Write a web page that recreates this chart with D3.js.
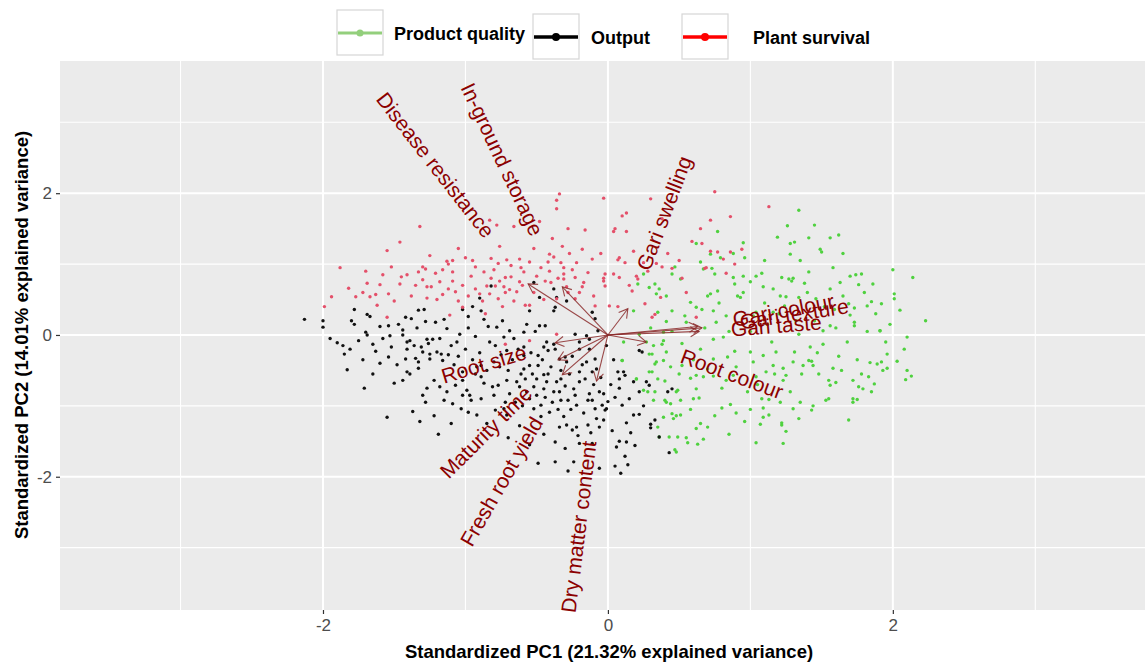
<!DOCTYPE html>
<html>
<head>
<meta charset="utf-8">
<script src="https://cdn.jsdelivr.net/npm/d3@7"></script>
<style>
  body { margin: 0; background: #fff; }
  svg { display: block; font-family: "Liberation Sans", Arial, sans-serif; }
</style>
</head>
<body>
<div class="container"></div>
<script>
// PCA scores (standardized PC1, PC2)
const plantSurvival = [
  [-0.34,1.99],[-0.03,1.93],[-0.36,1.90],[-0.36,1.78],[-1.32,1.53],[-0.83,1.62],[-0.78,1.55],[-0.48,1.60],[-0.66,1.53],[-0.28,1.50],
  [-0.16,1.48],[0.04,1.46],[-1.46,1.31],[-1.05,1.22],[-0.76,1.25],[-1.55,1.19],[-0.52,1.22],[-0.39,1.36],[-0.32,1.25],[-0.18,1.21],
  [-1.13,1.04],[-1.09,1.05],[-1.00,1.09],[-0.82,1.08],[-0.71,1.06],[-0.62,1.07],[-0.55,1.03],[-0.41,1.14],[-0.38,1.10],[-0.27,1.15],
  [-0.11,1.07],[-1.88,0.95],[-1.52,0.96],[-1.30,0.96],[-1.28,0.93],[-1.21,0.87],[-1.16,0.92],[-1.12,1.00],[-0.93,0.96],[-0.87,0.89],
  [-0.77,1.01],[-0.68,0.98],[-0.61,0.95],[-0.59,0.89],[-0.42,1.03],[-0.31,0.95],[-0.22,1.02],[-0.02,0.86],[-1.45,0.82],[-1.41,0.85],
  [-1.33,0.89],[-1.09,0.89],[-0.96,0.83],[-0.82,0.80],[-0.76,0.76],[-0.72,0.81],[-0.68,0.82],[-0.62,0.75],[-0.50,0.83],[-0.41,0.90],
  [-0.31,0.86],[-0.23,0.81],[-0.17,0.74],[-1.82,0.66],[-1.69,0.73],[-1.60,0.71],[-1.54,0.58],[-1.46,0.72],[-1.30,0.78],[-1.27,0.68],
  [-1.24,0.68],[-1.12,0.65],[-1.09,0.76],[-0.93,0.65],[-0.85,0.69],[-0.79,0.69],[-0.73,0.68],[-0.69,0.64],[-0.44,0.76],[-0.40,0.74],
  [-0.31,0.79],[-0.29,0.68],[-0.18,0.68],[-0.03,0.76],[-1.94,0.54],[-1.77,0.54],[-1.72,0.60],[-1.67,0.54],[-1.63,0.57],[-1.27,0.52],
  [-1.16,0.57],[-1.07,0.61],[-0.90,0.58],[-0.83,0.58],[-0.77,0.51],[-0.72,0.60],[-0.64,0.61],[-0.28,0.60],[-0.23,0.51],[-1.99,0.40],
  [-1.55,0.25],[-1.11,0.28],[-1.05,0.48],[-1.02,0.39],[-0.86,0.30],[-0.58,0.42],[-0.55,0.42],[-0.36,0.51],[0.01,0.41],[-0.09,0.41],
  [0.30,1.92],[0.75,2.02],[1.13,1.81],[0.10,1.68],[0.13,1.72],[0.05,1.50],[0.13,1.46],[0.38,1.64],[0.72,1.62],[0.86,1.67],
  [0.65,1.50],[0.59,1.32],[0.66,1.29],[0.18,1.18],[0.08,1.09],[0.07,1.06],[0.34,1.01],[0.38,0.96],[0.45,0.94],[0.25,1.02],
  [0.72,1.18],[0.77,1.17],[0.86,1.17],[0.94,1.21],[0.81,1.07],[0.68,0.94],[0.89,1.00],[0.83,0.87],[-0.03,0.80],[-0.02,0.69],
  [0.04,0.86],[0.08,0.81],[0.20,0.83],[0.21,0.79],[0.52,0.80],[0.17,0.62],[0.37,0.53],[0.07,0.40],[0.26,0.44],[0.33,0.29],
  [0.31,0.25],[0.62,0.25],[0.69,0.95],[-0.72,-0.13],[-0.55,-0.08],[-0.36,0.01],
  [-1.70,0.90],[-1.62,0.42],[-1.50,0.48],[-1.38,0.55],[-1.35,0.70],[-1.20,0.50],[-1.18,0.75],[-1.02,0.70],[-0.98,0.55],[-0.95,1.05],
  [-0.88,0.48],[-0.80,0.92],[-0.74,0.40],[-0.66,0.48],[-0.60,0.70],[-0.52,0.60],[-0.47,0.95],[-0.45,0.50],[-0.35,0.80],[-0.33,1.02],
  [-0.25,0.92],[-0.20,0.60],[-0.14,0.88],[-0.10,0.55],[-0.05,1.15],[0.12,1.02],[0.15,0.70],[0.28,0.90],[0.42,1.15],[0.50,1.05],
  [0.55,0.60],[-1.58,0.85],[-1.25,1.12]
];

const output = [
  [-2.13,0.22],[-2.00,0.20],[-2.00,0.11],[-1.80,0.20],[-1.78,0.36],[-1.78,0.15],[-1.69,0.29],[-1.67,0.26],[-1.70,0.04],[-1.60,0.12],
  [-1.54,0.13],[-1.44,0.07],[-1.42,0.25],[-1.38,0.23],[-1.33,0.35],[-1.29,0.36],[-1.28,0.19],[-1.21,0.18],[-1.13,0.09],[-1.02,0.36],
  [-0.95,0.40],[-0.98,0.26],[-0.90,0.52],[-0.89,0.34],[-0.87,0.22],[-0.82,0.69],[-0.78,0.11],[-0.69,0.06],[-0.59,0.04],[-0.57,0.15],
  [-0.55,0.34],[-0.52,0.74],[-0.48,0.53],[-0.44,0.13],[-0.48,0.13],[-0.38,0.65],[-0.37,0.39],[-0.36,0.53],[-0.38,0.34],[-0.29,0.48],
  [-0.23,0.01],[-0.11,0.32],[-0.09,0.23],[-0.07,0.06],
  [-1.90,-0.11],[-1.86,-0.15],[-1.81,-0.20],[-1.85,-0.27],[-1.83,-0.49],[-1.71,-0.75],[-1.65,-0.13],[-1.63,-0.23],[-1.69,0.00],[-1.53,-0.01],
  [-1.52,-0.17],[-1.54,-0.31],[-1.55,-1.16],[-1.44,0.00],[-1.41,-0.10],[-1.39,-0.08],[-1.41,-0.20],[-1.42,-0.34],[-1.41,-0.52],[-1.44,-0.64],
  [-1.39,-0.55],[-1.35,-0.33],[-1.33,-0.38],[-1.33,-0.47],[-1.30,-0.24],[-1.31,-0.17],[-1.27,-0.06],[-1.25,-0.27],[-1.25,-0.34],[-1.23,-0.06],
  [-1.20,-0.24],[-1.17,-0.27],[-1.12,-0.28],[-1.16,-0.36],[-1.22,-0.64],[-1.18,-0.73],[-1.13,-0.80],[-1.15,-0.92],[-1.27,-0.75],[-1.30,-0.85],
  [-1.37,-1.08],[-1.32,-1.22],[-1.22,-1.14],[-1.19,-1.40],[-1.09,-0.97],[-1.07,-0.71],[-1.02,-0.64],[-1.02,-0.85],[-0.99,-0.78],[-0.97,-0.85],
  [-0.96,-0.92],[-0.98,-1.09],[-0.92,-1.13],[-1.03,-1.04],[-0.93,-0.55],[-0.89,-0.59],[-1.06,-0.10],[-1.04,0.01],[-1.02,-0.52],[-0.92,-0.45],
  [-0.89,-0.43],[-0.80,-0.38],[-0.83,-0.10],[-0.79,-0.15],[-0.73,-0.03],[-0.71,-0.22],[-0.71,-0.64],[-0.77,-0.71],[-0.81,-0.73],[-0.89,-0.90],
  [-0.79,-1.06],[-0.73,-1.04],[-0.71,-1.13],[-0.72,-0.95],[-0.69,-0.83],[-0.64,-0.66],[-0.62,-0.73],[-0.61,-0.55],[-0.59,-0.48],[-0.55,-0.43],
  [-0.52,-0.73],[-0.55,-0.90],[-0.50,-0.85],[-0.52,-1.04],[-0.47,-0.99],[-0.45,-0.76],[-0.43,-0.66],[-0.45,-0.56],[-0.49,-0.43],[-0.49,-0.29],
  [-0.45,-0.17],[-0.43,-0.10],[-0.38,-0.13],[-0.37,-0.20],[-0.34,-0.34],[-0.30,-0.31],[-0.29,-0.38],[-0.33,-0.62],[-0.36,-0.66],[-0.38,-0.80],
  [-0.41,-1.09],[-0.34,-0.80],[-0.33,-0.92],[-0.28,-0.92],[-0.34,-1.30],[-0.29,-1.27],[-0.25,-1.34],[-0.22,-1.30],[-0.24,-0.76],[-0.20,-0.52],
  [-0.20,-0.20],[-0.20,-0.10],[-0.15,-0.01],[-0.13,-0.06],[-0.13,-0.20],[-0.15,-0.38],[-0.09,-0.34],[-0.11,-0.52],[-0.20,-0.66],[-0.13,-0.83],
  [-0.11,-0.92],[-0.09,-1.04],[-0.04,-0.99],[-0.02,-1.06],[-0.08,-1.18],[-0.14,-1.27],[-0.06,-0.80],[-0.49,-1.81],[-0.37,-1.79],[-0.24,-1.79],
  [-0.37,-1.51],[-0.20,-1.53],[-0.11,-1.53],[-0.59,-0.29],[-0.59,-0.17],[-0.42,-0.55],[-0.22,-0.99],
  [-0.01,-0.15],[0.04,-0.35],[0.07,-0.52],[0.11,-0.52],[0.12,-0.57],[0.08,-0.62],[0.08,-0.75],[0.18,-0.66],[0.22,-0.80],[0.27,-0.66],
  [0.29,-0.71],[-0.03,-0.83],[0.00,-0.94],[-0.01,-1.04],[0.10,-0.99],[0.18,-1.13],[0.22,-1.12],[0.13,-1.24],[0.30,-1.26],[0.30,-1.31],
  [0.36,-1.44],[0.42,-0.80],[0.45,-0.76],[0.08,-1.50],[0.13,-1.51],[0.19,-1.56],[0.06,-1.58],[0.12,-1.71],[0.43,-1.66],[0.22,-0.22],
  [0.24,-0.24],[-0.28,-1.92],[-0.06,-1.88],[0.05,-1.85],[0.09,-1.95],[0.14,-1.83],
  [-1.95,-0.05],[-1.75,-0.08],[-1.72,-0.35],[-1.60,-0.40],[-1.58,-0.05],[-1.48,-0.42],[-1.47,0.15],[-1.36,-0.15],[-1.34,0.10],[-1.26,-0.12],
  [-1.18,-0.05],[-1.15,0.22],[-1.10,-0.15],[-1.08,-0.42],[-1.05,-0.30],[-1.00,-0.20],[-0.98,0.10],[-0.95,-0.35],[-0.93,-0.02],[-0.90,-0.25],
  [-0.87,-0.68],[-0.85,-0.50],[-0.84,0.12],[-0.80,-0.85],[-0.76,-0.45],[-0.75,-0.28],[-0.74,0.20],[-0.70,-0.50],[-0.67,-0.35],[-0.66,-0.05],
  [-0.65,-0.95],[-0.63,-0.20],[-0.60,-1.00],[-0.58,-0.62],[-0.57,-0.80],[-0.54,-0.25],[-0.53,-0.55],[-0.51,0.05],[-0.50,-0.62],[-0.47,-1.15],
  [-0.46,-0.35],[-0.44,-0.88],[-0.42,-0.22],[-0.40,-0.45],[-0.39,-0.95],[-0.35,-1.05],[-0.33,-0.50],[-0.31,-1.15],[-0.30,-0.72],[-0.27,-0.55],
  [-0.26,-1.05],[-0.25,-0.30],[-0.23,-0.85],[-0.21,-1.42],[-0.18,-0.42],[-0.17,-1.10],[-0.16,-0.62],[-0.14,-0.92],[-0.12,-1.38],[-0.10,-0.70],
  [-0.08,-0.48],[-0.06,-1.30],[-0.05,-0.60],[-0.03,-1.20],[0.02,-0.70],[0.03,-1.35],[0.05,-0.88],[0.15,-0.90],[0.16,-1.38],[0.25,-1.00],
  [0.33,-1.20],[-1.65,-0.55],[-1.50,-0.68],[-1.28,-0.95],[-1.10,-1.25],[-0.85,-1.25],[-0.62,-1.28],[-0.45,-1.40],[-0.55,-1.55],[-0.70,-1.45],
  [-0.30,-1.60]
];

const productQuality = [
  [1.34,1.76],[1.26,1.54],[1.19,1.38],[1.28,1.29],[1.31,1.31],[1.28,1.14],[1.41,1.37],[1.56,1.37],[1.62,1.41],[1.49,1.21],
  [1.50,1.17],[0.77,1.46],[0.62,1.29],[0.65,1.03],[0.72,1.14],[0.79,1.09],[0.88,1.15],[0.96,1.09],[0.67,0.93],[0.73,0.94],
  [0.75,0.86],[0.88,0.81],[0.89,0.72],[0.95,0.83],[1.04,0.83],[1.08,0.87],[1.22,0.81],[1.27,0.79],[1.29,0.76],[1.30,0.80],
  [1.38,0.73],[1.41,0.89],[1.58,0.95],[1.70,0.83],[1.74,0.85],[1.78,0.86],[1.63,0.74],[1.76,0.71],[1.86,0.72],[2.00,0.92],
  [2.14,0.81],[2.01,0.58],[2.01,0.51],[1.92,0.44],[1.85,0.47],[1.82,0.41],[1.73,0.38],[1.73,0.18],[1.73,0.13],[1.91,0.06],
  [2.10,-0.03],[2.23,0.20],[1.56,0.65],[1.46,0.51],[1.34,0.53],[1.25,0.54],[1.21,0.55],[1.16,0.65],[1.09,0.68],[1.00,0.75],
  [0.91,0.55],[0.93,0.53],[0.77,0.62],[0.72,0.58],[0.70,0.55],[0.58,0.46],[0.51,0.79],[0.45,0.86],[0.33,0.72],[0.36,0.65],
  [0.41,0.55],[0.34,0.58],[0.29,0.67],[0.21,0.72],[0.18,0.34],[0.35,0.32],[0.45,0.34],[0.41,0.19],[0.54,0.27],[0.62,0.39],
  [0.66,0.36],[0.74,0.34],[0.76,0.18],[0.83,0.27],[1.56,0.13],[1.59,0.36],[1.69,0.44],[1.24,0.41],[1.16,0.32],[1.04,0.32],
  [1.02,0.27],[0.47,0.96],[0.25,0.86],
  [0.22,0.01],[0.39,0.04],[0.74,-0.06],[0.81,-0.03],[1.34,0.01],[1.51,0.06],[1.91,0.06],[0.32,-0.15],[0.38,-0.13],[0.29,-0.27],
  [0.41,-0.24],[0.10,-0.36],[0.34,-0.38],[0.33,-0.41],[0.39,-0.36],[0.44,-0.45],[0.52,-0.43],[0.65,-0.20],[0.74,-0.34],[0.84,-0.31],
  [0.89,-0.23],[1.00,-0.24],[1.02,-0.38],[1.09,-0.29],[1.18,-0.24],[1.16,-0.43],[1.23,-0.47],[1.31,-0.24],[1.30,-0.38],[1.37,-0.43],
  [1.41,-0.36],[1.43,-0.37],[1.42,-0.17],[1.51,-0.13],[1.58,-0.47],[1.64,-0.50],[1.75,-0.35],[1.84,-0.39],[1.89,-0.41],[1.92,-0.38],
  [1.96,-0.27],[2.03,-0.37],[1.96,-0.47],[1.93,-0.50],[2.10,-0.50],[2.09,-0.63],[2.13,-0.58],[0.31,-0.52],[0.35,-0.62],[0.20,-0.62],
  [0.58,-0.61],[0.62,-0.57],[0.67,-0.59],[0.74,-0.58],[0.83,-0.64],[0.88,-0.57],[1.04,-0.59],[1.11,-0.52],[1.17,-0.55],[1.23,-0.64],
  [1.25,-0.57],[1.36,-0.55],[1.44,-0.43],[1.48,-0.55],[1.55,-0.64],[1.56,-0.71],[1.60,-0.67],[1.72,-0.64],[1.76,-0.73],[1.79,-0.76],
  [1.85,-0.80],[1.87,-0.69],[1.83,-0.59],[0.28,-0.80],[0.33,-0.80],[0.32,-0.92],[0.40,-0.92],[0.44,-0.97],[0.48,-0.80],[0.51,-0.92],
  [0.49,-0.78],[0.60,-0.90],[0.64,-0.89],[0.62,-0.76],[0.75,-1.14],[0.80,-1.03],[0.86,-0.98],[0.96,-1.22],[1.08,-0.90],[1.13,-0.91],
  [1.09,-1.03],[1.09,-1.16],[1.13,-1.13],[1.21,-0.95],[1.22,-1.24],[1.22,-1.27],[1.25,-1.36],[1.30,-1.04],[1.34,-1.18],[1.43,-1.06],
  [1.44,-1.00],[1.53,-0.92],[1.69,-1.20],[1.72,-0.90],[1.72,-0.95],[1.75,-0.91],[0.39,-1.16],[0.45,-1.11],[0.46,-1.18],[0.48,-1.14],
  [0.51,-1.13],[0.43,-1.44],[0.49,-1.44],[0.56,-1.52],[0.62,-1.32],[0.65,-1.25],[0.67,-1.47],[0.63,-1.54],[0.47,-1.62],[0.48,-1.65],
  [1.04,-1.52],[1.23,-1.53],[1.07,-1.26],
  [0.10,-0.36],[0.20,-0.62],[0.31,-0.27],[0.29,-0.52],[0.41,-0.95],[0.36,-1.44],[0.25,-0.78],[0.11,-0.10],[0.27,-0.10],[0.39,-0.08],
  [0.30,0.10],[0.45,0.05],[0.52,-0.12],[0.55,0.18],[0.60,-0.35],[0.68,0.10],[0.70,-0.48],[0.78,0.45],[0.80,-0.75],[0.85,0.05],
  [0.90,-0.45],[0.95,0.60],[0.98,-0.80],[1.00,0.05],[1.05,-0.70],[1.10,0.45],[1.12,0.15],[1.15,-0.10],[1.20,0.30],[1.28,-0.80],
  [1.32,0.20],[1.35,-0.95],[1.40,0.60],[1.45,0.20],[1.47,-0.25],[1.52,0.40],[1.55,-0.90],[1.60,0.10],[1.62,-0.30],[1.65,0.55],
  [1.68,-0.10],[1.70,0.28],[1.78,-0.55],[1.80,0.60],[1.82,0.05],[1.88,0.30],[1.95,-0.10],[1.98,0.15],[2.05,0.35],[2.08,-0.20],
  [0.58,-1.05],[0.70,-1.30],[0.85,-1.40],[0.90,-1.10],[1.00,-1.05],[0.40,-0.65],[0.50,-0.55],[0.55,-1.45],[0.35,-1.30],[0.95,1.30],
  [1.10,1.05],[1.35,1.05],[1.45,1.55],[1.65,1.15]
];

// loadings (arrow tips)
const varNames = ["Disease resistance", "In-ground storage", "Gari swelling", "Gari colour", "Gari texture",
  "Gari taste", "Root colour", "Root size", "Maturity time", "Fresh root yield", "Dry matter content"];
const loadX = [-0.56, -0.32, 0.14, 0.63, 0.66, 0.64, 0.27, -0.37, -0.35, -0.32, -0.08];
const loadY = [0.72, 0.68, 0.37, 0.12, 0.10, 0.05, -0.10, -0.11, -0.35, -0.56, -0.65];

const groupNames = ["Product quality", "Output", "Plant survival"];
const groupColors = ["#4fd13f", "#111111", "#e4506a"];
const legendLineColors = ["#93cf7c", "#000000", "#ff0000"];

const xMajor = [-2, 0, 2];
const xMinor = [-3, -1, 1, 3];
const yMajor = [-2, 0, 2];
const yMinor = [-3, -1, 1, 3];

const xTitle = "Standardized PC1 (21.32% explained variance)";
const yTitle = "Standardized PC2 (14.01% explained variance)";

const width = 1145, height = 666;
const panel = { left: 60, right: 1145, top: 61, bottom: 610 };

const svg = d3.select(".container")
  .append("svg")
  .attr("width", width)
  .attr("height", height);

const x = d3.scaleLinear().domain([-3.846, 3.77]).range([panel.left, panel.right]);
const y = d3.scaleLinear().domain([-3.88, 3.865]).range([panel.bottom, panel.top]);

// panel
svg.append("rect")
  .attr("x", panel.left).attr("y", panel.top)
  .attr("width", panel.right - panel.left).attr("height", panel.bottom - panel.top)
  .attr("fill", "#ebebeb");

const grid = svg.append("g").attr("stroke", "#fff");
grid.selectAll(".vmin").data(xMinor).join("line")
  .attr("x1", d => x(d)).attr("x2", d => x(d)).attr("y1", panel.top).attr("y2", panel.bottom)
  .attr("stroke-width", 1.1);
grid.selectAll(".hmin").data(yMinor).join("line")
  .attr("y1", d => y(d)).attr("y2", d => y(d)).attr("x1", panel.left).attr("x2", panel.right)
  .attr("stroke-width", 1.1);
grid.selectAll(".vmaj").data(xMajor).join("line")
  .attr("x1", d => x(d)).attr("x2", d => x(d)).attr("y1", panel.top).attr("y2", panel.bottom)
  .attr("stroke-width", 2);
grid.selectAll(".hmaj").data(yMajor).join("line")
  .attr("y1", d => y(d)).attr("y2", d => y(d)).attr("x1", panel.left).attr("x2", panel.right)
  .attr("stroke-width", 2);

// axes (plain hyphen minus like the original)
const fmt = d => String(d);
const xAxis = svg.append("g")
  .attr("transform", `translate(0,${panel.bottom})`)
  .call(d3.axisBottom(x).tickValues(xMajor).tickSize(4).tickPadding(5).tickFormat(fmt));
const yAxis = svg.append("g")
  .attr("transform", `translate(${panel.left},0)`)
  .call(d3.axisLeft(y).tickValues(yMajor).tickSize(4).tickPadding(4).tickFormat(fmt));
[xAxis, yAxis].forEach(a => {
  a.select(".domain").remove();
  a.selectAll(".tick line").attr("stroke", "#333").attr("stroke-width", 1.2);
  a.selectAll(".tick text").attr("fill", "#4d4d4d").style("font-size", "17px")
    .style("font-family", '"Liberation Sans", Arial, sans-serif');
});

// points
const groups = [productQuality, output, plantSurvival];
groups.forEach((pts, i) => {
  svg.append("g").selectAll("circle").data(pts).join("circle")
    .attr("cx", d => x(d[0])).attr("cy", d => y(d[1]))
    .attr("r", 1.7)
    .attr("fill", groupColors[i]);
});

// arrows
const arrowG = svg.append("g").attr("stroke", "#8b2a2a").attr("stroke-width", 1.1).attr("fill", "none")
  .attr("stroke-opacity", 0.85);
const headLen = 10, headAng = Math.PI / 6;
varNames.forEach((name, i) => {
  const x0 = x(0), y0 = y(0), x1 = x(loadX[i]), y1 = y(loadY[i]);
  const th = Math.atan2(y1 - y0, x1 - x0);
  arrowG.append("line").attr("x1", x0).attr("y1", y0).attr("x2", x1).attr("y2", y1);
  arrowG.append("path").attr("d",
    `M${x1 - headLen * Math.cos(th - headAng)},${y1 - headLen * Math.sin(th - headAng)}L${x1},${y1}` +
    `L${x1 - headLen * Math.cos(th + headAng)},${y1 - headLen * Math.sin(th + headAng)}`);
});

// variable names, placed like ggbiplot (angle from the loading, hjust pushed outward)
const adjust = 1.7;
varNames.forEach((name, i) => {
  const lx = loadX[i], ly = loadY[i];
  const ang = Math.atan(ly / lx) * 180 / Math.PI;
  const hjust = (1 - adjust * Math.sign(lx)) / 2;
  const g = svg.append("g")
    .attr("transform", `translate(${x(lx)},${y(ly)}) rotate(${-ang})`);
  const t = g.append("text")
    .attr("fill", "#8b0000")
    .attr("dominant-baseline", "central")
    .style("font-size", "21px")
    .text(name);
  const w = t.node().getComputedTextLength();
  t.attr("x", -hjust * w);
});

// axis titles
svg.append("text")
  .attr("x", 609).attr("y", 658)
  .attr("text-anchor", "middle")
  .style("font-size", "18.5px").style("font-weight", "bold")
  .text(xTitle);
svg.append("text")
  .attr("transform", `translate(28,${y(0)}) rotate(-90)`)
  .attr("text-anchor", "middle")
  .style("font-size", "18.5px").style("font-weight", "bold")
  .text(yTitle);

// legend
const legendBoxX = [337, 533, 682];
const legendBoxY = [10, 14, 14];
const legendTextX = [394, 591, 753];
const legend = svg.append("g");
groupNames.forEach((name, i) => {
  const bx = legendBoxX[i], by = legendBoxY[i];
  legend.append("rect")
    .attr("x", bx).attr("y", by).attr("width", 46).attr("height", 45)
    .attr("fill", "#fff").attr("stroke", "#d6d6d6").attr("stroke-width", 1.2);
  legend.append("line")
    .attr("x1", bx + 1).attr("x2", bx + 45).attr("y1", by + 23).attr("y2", by + 23)
    .attr("stroke", legendLineColors[i]).attr("stroke-width", i === 0 ? 3 : 3.5);
  legend.append("circle")
    .attr("cx", bx + 23).attr("cy", by + 23).attr("r", i === 0 ? 3.5 : 4)
    .attr("fill", legendLineColors[i]);
  legend.append("text")
    .attr("x", legendTextX[i]).attr("y", by + 30)
    .style("font-size", "18px").style("font-weight", "bold")
    .text(name);
});
</script>
</body>
</html>
